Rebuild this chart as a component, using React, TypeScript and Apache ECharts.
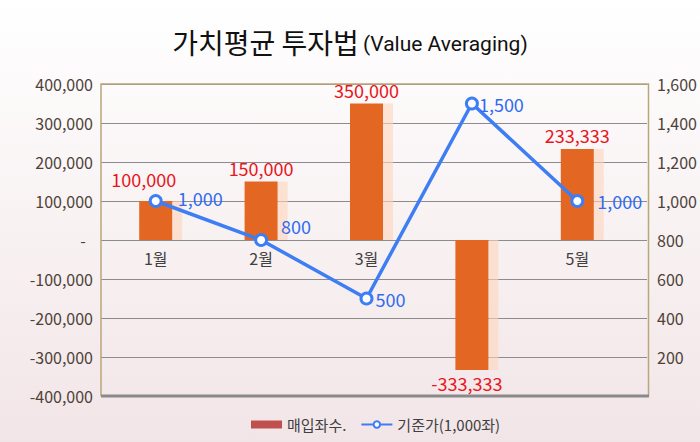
import React, { useEffect, useRef } from "react";
import * as echarts from "echarts";

const categories = ["1월", "2월", "3월", "4월", "5월"];
const purchasedUnits = [100000, 150000, 350000, -333333, 233333];
const basePrice = [1000, 800, 500, 1500, 1000];
const leftTicks = { min: -400000, max: 400000, interval: 100000 };
const rightTicks = { min: 0, max: 1600, interval: 200 };
const barName = "매입좌수.";
const lineName = "기준가(1,000좌)";
const titleMain = "가치평균 투자법";
const titleSub = "(Value Averaging)";

const FONT = "'Noto Sans CJK KR', 'Noto Sans', sans-serif";
const fmt = (v: number) => v.toLocaleString("en-US");

export default function App() {
  const ref = useRef<HTMLDivElement>(null);
  useEffect(() => {
    document.body.style.margin = "0";
    const chart = echarts.init(ref.current!, null, { renderer: "svg" });
    const G = { left: 101, right: 52, top: 84, bottom: 46 };
    const barLabelOverrides: any[] = [
      { offset: [-12, -8] },
      {},
      {},
      { position: "bottom", distance: 4, offset: [-5, 0] },
      {},
    ];
    const lineLabelOverrides: any[] = [
      { offset: [3, -3] },
      { offset: [1, -14] },
      { offset: [-10, 0] },
      { offset: [-12, 0] },
      { offset: [1, 0] },
    ];
    chart.setOption({
      animation: false,
      backgroundColor: {
        type: "linear",
        x: 0,
        y: 0,
        x2: 0,
        y2: 1,
        colorStops: [
          { offset: 0, color: "#FFFFFF" },
          { offset: 1, color: "#F2E5E7" },
        ],
      },
      textStyle: { fontFamily: FONT },
      title: {
        text: `{a|${titleMain}} {b|${titleSub}}`,
        left: "center",
        top: 22,
        padding: 0,
        textStyle: {
          fontWeight: "normal",
          rich: {
            a: { fontFamily: FONT, fontSize: 28, fontWeight: "normal", color: "#111111", lineHeight: 40 },
            b: { fontFamily: "Roboto, sans-serif", fontSize: 21, fontWeight: "normal", color: "#111111", lineHeight: 40, padding: [4, 0, 0, 0] },
          },
        },
      },
      legend: {
        left: 246,
        top: 412,
        itemWidth: 31,
        itemHeight: 8,
        itemGap: 14,
        textStyle: { fontFamily: FONT, fontSize: 15, color: "#404040" },
        data: [
          { name: barName, icon: "rect", itemStyle: { color: "#C0504D" } },
          { name: lineName },
        ],
      },
      grid: [
        { ...G },
        { left: 103, right: 70, top: G.top, bottom: G.bottom },
        { left: 103, right: 70, top: G.top, bottom: 202 },
      ],
      xAxis: [
        { type: "value", gridIndex: 0, show: false, min: 0, max: 1 },
        {
          type: "category",
          gridIndex: 1,
          data: categories,
          show: false,
        },
        {
          type: "category",
          gridIndex: 2,
          data: categories,
          axisLine: { show: false },
          axisTick: { show: false },
          axisLabel: { fontFamily: FONT, fontSize: 16, color: "#404040", margin: 10 },
          splitLine: { show: false },
          z: 0,
        },
      ],
      yAxis: [
        {
          type: "value",
          gridIndex: 0,
          position: "left",
          ...leftTicks,
          axisLine: { show: false },
          axisTick: { show: false },
          axisLabel: {
            fontFamily: FONT,
            fontSize: 16,
            color: "#4D4238",
            margin: 8,
            formatter: (v: number) => (v === 0 ? "-  " : fmt(v)),
          },
          splitLine: { show: true, lineStyle: { color: "#8C8C8C", width: 1 } },
        },
        {
          type: "value",
          gridIndex: 0,
          position: "right",
          ...rightTicks,
          axisLine: { show: false },
          axisTick: { show: false },
          axisLabel: {
            fontFamily: FONT,
            fontSize: 16,
            color: "#4D4238",
            margin: 10,
            formatter: (v: number) => (v === 0 ? "" : fmt(v)),
          },
          splitLine: { show: false },
        },
        { type: "value", gridIndex: 1, ...leftTicks, show: false, splitLine: { show: false } },
        { type: "value", gridIndex: 1, ...rightTicks, show: false, splitLine: { show: false } },
        { type: "value", gridIndex: 2, min: 0, max: 1, show: false, splitLine: { show: false } },
      ],
      graphic: [
        {
          type: "polyline",
          shape: { points: [[101, 396], [101, 84], [648.5, 84], [648.5, 396]] },
          style: { stroke: "#B8A77A", lineWidth: 1.5, fill: null },
          z: 10,
        },
        {
          type: "line",
          shape: { x1: 101, y1: 396, x2: 649, y2: 396 },
          style: { stroke: "#8A8A8A", lineWidth: 3 },
          z: 10,
        },
      ],
      series: [
        {
          type: "custom",
          name: "shadow",
          xAxisIndex: 1,
          yAxisIndex: 2,
          data: purchasedUnits.map((v, i) => [i, v]),
          renderItem: (params: any, api: any) => {
            const i = api.value(0);
            const v = api.value(1);
            const top = api.coord([i, v]);
            const base = api.coord([i, 0]);
            const y = Math.min(top[1], base[1]);
            const h = Math.abs(top[1] - base[1]);
            return {
              type: "rect",
              shape: { x: top[0] + 16.5, y, width: 10, height: h },
              style: { fill: "rgba(253, 214, 188, 0.6)" },
            };
          },
          silent: true,
          z: 1,
        },
        {
          type: "bar",
          name: barName,
          xAxisIndex: 1,
          yAxisIndex: 2,
          barWidth: 33,
          itemStyle: { color: "#E36722" },
          data: purchasedUnits.map((v, i) => ({
            value: v,
            label: barLabelOverrides[i],
          })),
          label: {
            show: true,
            position: "top",
            distance: 5,
            fontFamily: FONT,
            fontSize: 18,
            color: "#E8151C",
            formatter: (p: any) => fmt(p.value),
          },
          z: 2,
        },
        {
          type: "line",
          name: lineName,
          xAxisIndex: 1,
          yAxisIndex: 3,
          data: basePrice.map((v, i) => ({ value: v, label: lineLabelOverrides[i] })),
          symbol: "circle",
          symbolSize: 11,
          lineStyle: { color: "#3D7EF5", width: 3.5 },
          itemStyle: { color: "#FFFFFF", borderColor: "#3D7EF5", borderWidth: 3 },
          label: {
            show: true,
            position: "right",
            distance: 12,
            fontFamily: FONT,
            fontSize: 18,
            color: "#2F6CF0",
            formatter: (p: any) => fmt(p.value),
          },
          z: 5,
        },
      ],
    });
    return () => chart.dispose();
  }, []);
  return <div ref={ref} style={{ width: 700, height: 442 }} />;
}
